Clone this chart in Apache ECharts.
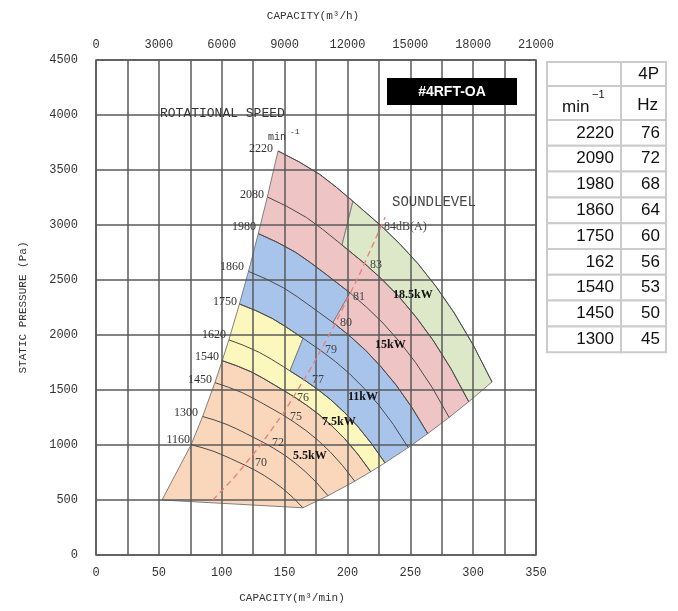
<!DOCTYPE html>
<html>
<head>
<meta charset="utf-8">
<script src="https://cdn.jsdelivr.net/npm/echarts@6/dist/echarts.min.js"></script>
<style>
html, body { margin: 0; padding: 0; background: #fff; }
#chart { width: 678px; height: 611px; }
</style>
</head>
<body>
<div id="chart"></div>
<script>
// speed curves: [capacity m3/min, static pressure Pa]
const c2220 = [[144.8,3673],[161.4,3575],[178,3460],[191.2,3343],[204.4,3215],[227,2990],[241.5,2830],[256,2650],[270.5,2440],[285,2200],[300,1910],[315,1573]];
const c2090 = [[136.3,3255],[151.9,3169],[167.6,3067],[180,2963],[192.4,2849],[213.7,2650],[227.3,2508],[241,2349],[254.6,2163],[268.3,1950],[282.4,1693],[296.5,1394]];
const c1980 = [[129.1,2922],[144,2844],[158.8,2752],[170.5,2659],[182.3,2558],[202.5,2379],[215.4,2251],[228.3,2108],[241.3,1941],[254.2,1750],[267.6,1519],[280.9,1251]];
const c1860 = [[121.3,2578],[135.2,2510],[149.1,2429],[160.2,2347],[171.2,2257],[190.2,2099],[202.3,1987],[214.5,1860],[226.6,1713],[238.8,1544],[251.3,1341],[263.9,1104]];
const c1750 = [[114.1,2282],[127.2,2222],[140.3,2150],[150.7,2077],[161.1,1998],[178.9,1858],[190.4,1759],[201.8,1647],[213.2,1516],[224.7,1367],[236.5,1187],[248.3,977]];
const c1620 = [[105.7,1956],[117.8,1904],[129.9,1842],[139.5,1780],[149.1,1712],[165.6,1592],[176.2,1507],[186.8,1411],[197.4,1299],[208,1172],[218.9,1017],[229.9,838]];
const c1540 = [[100.4,1767],[112,1720],[123.5,1665],[132.6,1609],[141.8,1547],[157.5,1439],[167.5,1362],[177.6,1275],[187.6,1174],[197.7,1059],[208.1,919],[218.5,757]];
const c1450 = [[94.6,1567],[105.4,1525],[116.3,1476],[124.9,1426],[133.5,1372],[148.3,1276],[157.7,1207],[167.2,1130],[176.7,1041],[186.2,939],[196,815],[205.8,671]];
const c1300 = [[84.8,1259],[94.5,1226],[104.2,1186],[112,1146],[119.7,1102],[132.9,1025],[141.4,970],[149.9,909],[158.4,837],[166.9,754],[175.7,655],[184.5,539]];
const c1160 = [[75.7,1003],[84.3,976],[93,945],[99.9,913],[106.8,878],[118.6,816],[126.2,773],[133.8,723],[141.3,666],[148.9,601],[156.8,521],[164.6,429]];
const curves = [c2220, c2090, c1980, c1860, c1750, c1620, c1540, c1450, c1300, c1160];

// left (surge) edge and right (max capacity) edge
const surge = [[52.5,500],[75.7,1003],[84.8,1259],[94.6,1567],[100.4,1767],[105.7,1956],
  [114.1,2282],[121.3,2578],[129.1,2922],[136.3,3255],[144.8,3673]];
const outer = [[164.6,429],[184.5,539],[205.8,671],[218.5,757],[229.9,838],[248.3,977],
  [263.9,1104],[280.9,1251],[296.5,1394],[315,1573]];

// where the motor power limits step from one speed curve to the next
const stepGreen = [204.4, 195.7];
const stepBlue = [202, 188.5];
const stepYellow = [164.7, 154.3];

// sound level line
const sound = [[93,500],[110,705],[130,985],[150,1305],[170,1680],[190,2095],[210,2560],[230,3070]];

// table
const tblRpm = ['2220','2090','1980','1860','1750','162','1540','1450','1300'];
const tblHz = ['76','72','68','64','60','56','53','50','45'];

const speedLabels = ['2220','2080','1980','1860','1750','1620','1540','1450','1300','1160'];
const soundLabels = ['84dB(A)','83','81','80','79','77','76','75','72','70'];
const kwLabels = ['18.5kW','15kW','11kW','7.5kW','5.5kW'];

function at(curve, x) {
  for (let i = 0; i < curve.length - 1; i++) {
    const a = curve[i], b = curve[i + 1];
    if (x >= a[0] && x <= b[0]) return [x, a[1] + (b[1] - a[1]) * (x - a[0]) / (b[0] - a[0])];
  }
  return curve[curve.length - 1];
}
function seg(curve, x0, x1) {
  const out = [at(curve, x0)];
  curve.forEach(p => { if (p[0] > x0 && p[0] < x1) out.push(p); });
  out.push(at(curve, x1));
  return out;
}
const last = c => c[c.length - 1][0];

const orange = [...surge.slice(0, 5), ...c1540, ...outer.slice(0, 4).reverse()];
const yellow = [...surge.slice(4, 7), ...seg(c1750, c1750[0][0], stepYellow[0]),
  ...seg(c1620, stepYellow[1], last(c1620)), ...outer.slice(3, 5).reverse(), ...c1540.slice().reverse()];
const blue = [...surge.slice(6, 9), ...seg(c1980, c1980[0][0], stepBlue[0]),
  ...seg(c1860, stepBlue[1], last(c1860)), ...outer.slice(4, 7).reverse(),
  ...seg(c1620, stepYellow[1], last(c1620)).reverse(), ...seg(c1750, c1750[0][0], stepYellow[0]).reverse()];
const pink = [...surge.slice(8, 11), ...seg(c2220, c2220[0][0], stepGreen[0]),
  ...seg(c2090, stepGreen[1], last(c2090)), ...outer.slice(6, 9).reverse(),
  ...seg(c1860, stepBlue[1], last(c1860)).reverse(), ...seg(c1980, c1980[0][0], stepBlue[0]).reverse()];
const green = [...seg(c2220, stepGreen[0], last(c2220)), outer[8],
  ...seg(c2090, stepGreen[1], last(c2090)).reverse()];

function region(pts, color) {
  return {
    type: 'custom', coordinateSystem: 'cartesian2d', silent: true, z: 1,
    data: [pts[0]],
    renderItem: (params, api) => ({
      type: 'polygon',
      shape: { points: pts.map(p => api.coord(p)) },
      style: { fill: color, stroke: '#808080', lineWidth: 1 }
    })
  };
}

const chartFont = 'Liberation Mono';
const serifFont = 'Liberation Serif';

const series = [
  region(orange, '#fad6bb'),
  region(yellow, '#fcf8bd'),
  region(blue, '#a8c4eb'),
  region(pink, '#efc4c4'),
  region(green, '#dde8c9'),
  ...curves.map(c => ({
    type: 'line', data: c, showSymbol: false, silent: true, z: 10,
    lineStyle: { color: '#4a4a4a', width: 1 }
  })),
  {
    type: 'line', data: sound, showSymbol: false, silent: true, z: 11,
    lineStyle: { color: '#ec7d76', width: 1.3, type: [6, 4] }
  }
];

// text placement (px)
const speedPos = [[273,149],[264,195],[256,227],[244,267],[237,302],[226,335],[219,357],[212,380],[198,413],[190,440]];
const soundPos = [[384,227],[370,265],[353,297],[340,323],[325,350],[312,380],[297,398],[290,417],[272,443],[255,463]];
const kwPos = [[393,295],[375,345],[348,397],[322,422],[293,456]];

const graphics = [];
speedLabels.forEach((t, i) => graphics.push({
  type: 'text', z: 50, x: speedPos[i][0], y: speedPos[i][1],
  style: { text: t, font: '12px ' + serifFont, fill: '#333', align: 'right', verticalAlign: 'middle' }
}));
soundLabels.forEach((t, i) => graphics.push({
  type: 'text', z: 50, x: soundPos[i][0], y: soundPos[i][1],
  style: { text: t, font: '12px ' + serifFont, fill: '#444', align: 'left', verticalAlign: 'middle' }
}));
kwLabels.forEach((t, i) => graphics.push({
  type: 'text', z: 50, x: kwPos[i][0], y: kwPos[i][1],
  style: { text: t, font: 'bold 12px ' + serifFont, fill: '#111', align: 'left', verticalAlign: 'middle' }
}));
graphics.push(
  { type: 'text', z: 50, x: 160, y: 114, style: { text: 'ROTATIONAL SPEED', font: '13px ' + chartFont, fill: '#333', verticalAlign: 'middle' } },
  { type: 'text', z: 50, x: 268, y: 137, style: { text: 'min', font: '10px ' + chartFont, fill: '#333', verticalAlign: 'middle' } },
  { type: 'text', z: 50, x: 290, y: 132, style: { text: '-1', font: '8px ' + chartFont, fill: '#333', verticalAlign: 'middle' } },
  { type: 'text', z: 50, x: 392, y: 202, style: { text: 'SOUNDLEVEL', font: '14px ' + chartFont, fill: '#444', verticalAlign: 'middle' } },
  { type: 'rect', z: 50, shape: { x: 387, y: 78, width: 130, height: 27 }, style: { fill: '#000' } },
  { type: 'text', z: 51, x: 452, y: 92, style: { text: '#4RFT-OA', font: 'bold 14px Liberation Sans', fill: '#fff', align: 'center', verticalAlign: 'middle' } },
  { type: 'text', z: 50, x: 313, y: 16, style: { text: 'CAPACITY(m³/h)', font: '11px ' + chartFont, fill: '#333', align: 'center', verticalAlign: 'middle' } },
  { type: 'text', z: 50, x: 292, y: 598, style: { text: 'CAPACITY(m³/min)', font: '11px ' + chartFont, fill: '#333', align: 'center', verticalAlign: 'middle' } }
);

// table on the right
const tx = [547, 621, 666];
const ty = [62, 86, 120];
for (let i = 1; i <= tblRpm.length; i++) ty.push(120 + i * 25.8);
for (let r = 0; r < ty.length - 1; r++) {
  for (let c = 0; c < 2; c++) {
    graphics.push({ type: 'rect', z: 40,
      shape: { x: tx[c], y: ty[r], width: tx[c + 1] - tx[c], height: ty[r + 1] - ty[r] },
      style: { fill: '#fff', stroke: '#cbcbcb', lineWidth: 2 } });
  }
}
const tfont = '17px Liberation Sans';
graphics.push(
  { type: 'text', z: 45, x: 659, y: 74, style: { text: '4P', font: tfont, fill: '#111', align: 'right', verticalAlign: 'middle' } },
  { type: 'text', z: 45, x: 658, y: 105, style: { text: 'Hz', font: tfont, fill: '#111', align: 'right', verticalAlign: 'middle' } },
  { type: 'text', z: 45, x: 562, y: 107, style: { text: 'min', font: tfont, fill: '#111', verticalAlign: 'middle' } },
  { type: 'text', z: 45, x: 592, y: 95, style: { text: '−1', font: '11px Liberation Sans', fill: '#111', verticalAlign: 'middle' } }
);
tblRpm.forEach((t, i) => {
  const y = (ty[i + 2] + ty[i + 3]) / 2;
  graphics.push(
    { type: 'text', z: 45, x: 614, y: y, style: { text: t, font: tfont, fill: '#111', align: 'right', verticalAlign: 'middle' } },
    { type: 'text', z: 45, x: 660, y: y, style: { text: tblHz[i], font: tfont, fill: '#111', align: 'right', verticalAlign: 'middle' } }
  );
});

const chart = echarts.init(document.getElementById('chart'));
chart.setOption({
  animation: false,
  backgroundColor: '#fff',
  grid: { left: 96, right: 142, top: 60, bottom: 56, show: true, borderColor: '#555', borderWidth: 1.5 },
  xAxis: [{
    type: 'value', min: 0, max: 350, interval: 25, z: 5,
    axisLine: { show: false }, axisTick: { show: false },
    axisLabel: { margin: 12, fontFamily: chartFont, fontSize: 12, color: '#333',
      formatter: v => (v % 50 === 0 ? String(v) : '') },
    splitLine: { lineStyle: { color: '#5a5a5a', width: 1.5 } }
  }, {
    type: 'value', min: 0, max: 21000, interval: 3000, position: 'top', z: 5,
    axisLine: { show: false }, axisTick: { show: false }, splitLine: { show: false },
    axisLabel: { margin: 9, fontFamily: chartFont, fontSize: 12, color: '#333', formatter: v => String(v) }
  }],
  yAxis: {
    type: 'value', min: 0, max: 4500, interval: 500, z: 5,
    name: 'STATIC PRESSURE (Pa)', nameLocation: 'middle', nameGap: 67, nameRotate: 90,
    nameTextStyle: { fontFamily: chartFont, fontSize: 11, color: '#333' },
    axisLine: { show: false }, axisTick: { show: false },
    axisLabel: { margin: 18, fontFamily: chartFont, fontSize: 12, color: '#333', formatter: v => String(v) },
    splitLine: { lineStyle: { color: '#5a5a5a', width: 1.5 } }
  },
  series: series,
  graphic: graphics
});
</script>
</body>
</html>
